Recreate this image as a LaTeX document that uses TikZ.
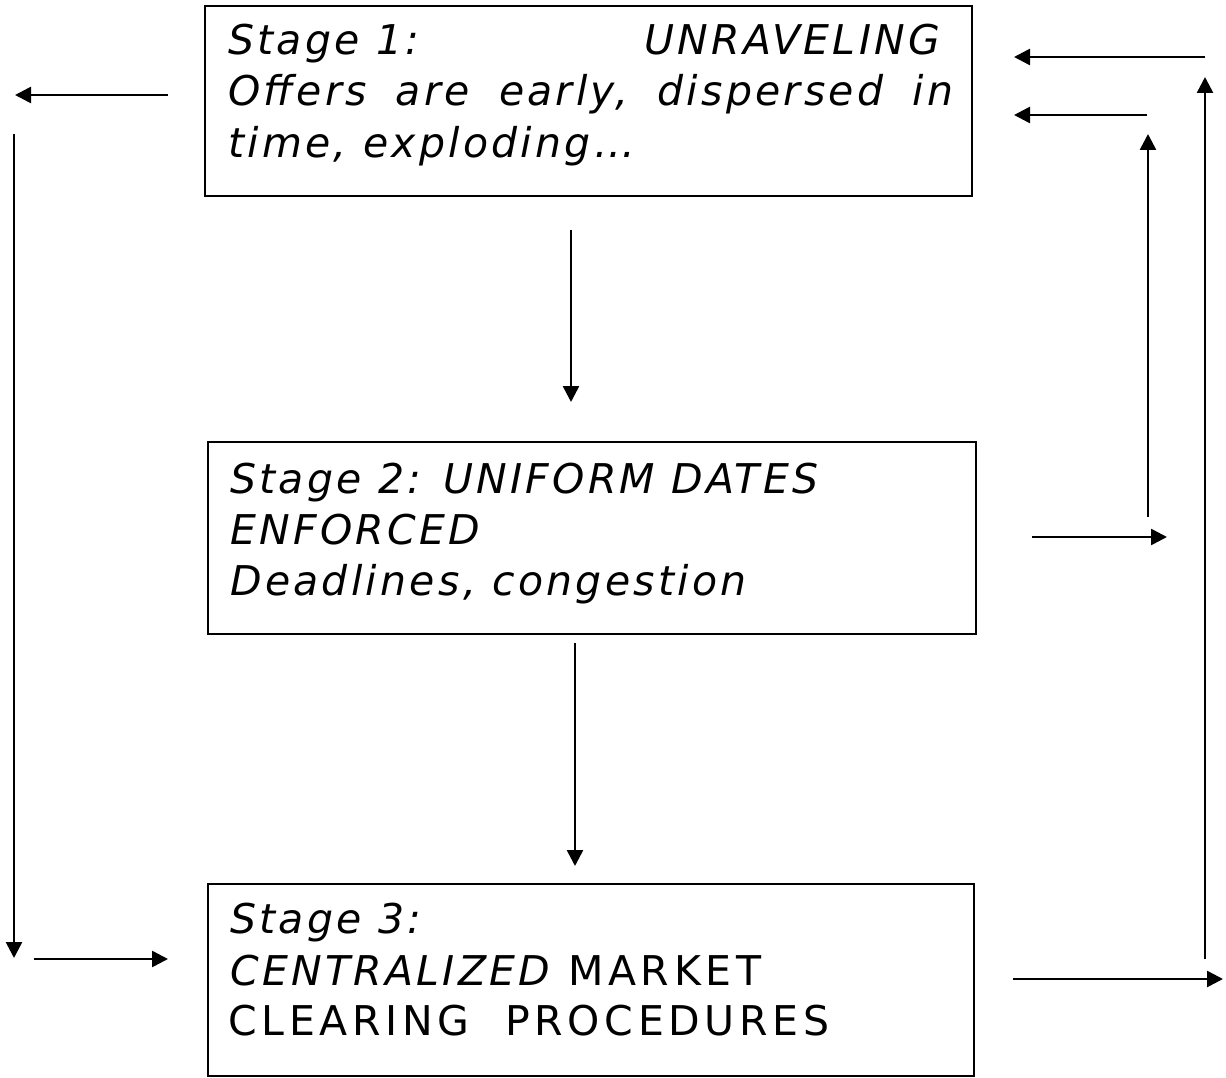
\documentclass[tikz,border=0pt]{standalone}
\usepackage{fontspec}
\setmainfont{DejaVu Sans}[LetterSpace=8]
\newfontfamily\uprightwide{DejaVu Sans}[LetterSpace=11.5]
\usetikzlibrary{arrows.meta}
\begin{document}
\begin{tikzpicture}[x=1pt,y=-1pt,
  stagebox/.style={draw, line width=1.8pt, inner sep=0pt, anchor=north west},
  txt/.style={anchor=base west, inner sep=0pt, font=\fontsize{41}{52}\selectfont\itshape},
  arr/.style={line width=2.6pt, -{Triangle[length=16pt,width=16pt]}}]
\useasboundingbox (0,0) rectangle (1226,1078);
% boxes
\node[stagebox, minimum width=767pt, minimum height=190pt] (b1) at (204,5) {};
\node[stagebox, minimum width=768pt, minimum height=192pt] (b2) at (207,441) {};
\node[stagebox, minimum width=766pt, minimum height=192pt] (b3) at (207,883) {};
% texts
\node[txt] (s1l1) at (228,55) {\hbox to 712pt{Stage 1:\hfill UNRAVELING}};
\node[txt] (s1l2) at (228,106) {\hbox to 725pt{Offers\hfill are\hfill early,\hfill dispersed\hfill in}};
\node[txt] (s1l3) at (228,158) {time, exploding…};
\node[txt] (s2l1) at (230,493) {Stage 2: UNIFORM DATES};
\node[txt] (s2l2) at (230,544) {ENFORCED};
\node[txt] (s2l3) at (230,595) {Deadlines, congestion};
\node[txt] (s3l1) at (230,933) {Stage 3:};
\node[txt] (s3l2) at (230,985) {CENTRALIZED\uprightwide\upshape\ MARKET};
\node[txt, font=\fontsize{41}{52}\selectfont\uprightwide\upshape] (s3l3) at (228,1035) {CLEARING\ \ PROCEDURES};
% arrow end points
\coordinate (v1s) at (571,230); \coordinate (v1e) at (571,402);
\coordinate (v2s) at (575,643); \coordinate (v2e) at (575,866);
\coordinate (tls) at (168,95);  \coordinate (tle) at (15,95);
\coordinate (lvs) at (14,134);  \coordinate (lve) at (14,958);
\coordinate (bls) at (34,959);  \coordinate (ble) at (168,959);
\coordinate (r1s) at (1205,57); \coordinate (r1e) at (1014,57);
\coordinate (r2s) at (1147,115); \coordinate (r2e) at (1014,115);
\coordinate (riv) at (1148,517); \coordinate (rive) at (1148,134);
\coordinate (rov) at (1205,959); \coordinate (rove) at (1205,77);
\coordinate (m2s) at (1032,537); \coordinate (m2e) at (1167,537);
\coordinate (m3s) at (1013,979); \coordinate (m3e) at (1223,979);
% arrows
\draw[arr] (v1s) -- (v1e);
\draw[arr] (v2s) -- (v2e);
\draw[arr] (tls) -- (tle);
\draw[arr] (lvs) -- (lve);
\draw[arr] (bls) -- (ble);
\draw[arr] (r1s) -- (r1e);
\draw[arr] (r2s) -- (r2e);
\draw[arr] (riv) -- (rive);
\draw[arr] (rov) -- (rove);
\draw[arr] (m2s) -- (m2e);
\draw[arr] (m3s) -- (m3e);
\end{tikzpicture}
\end{document}
